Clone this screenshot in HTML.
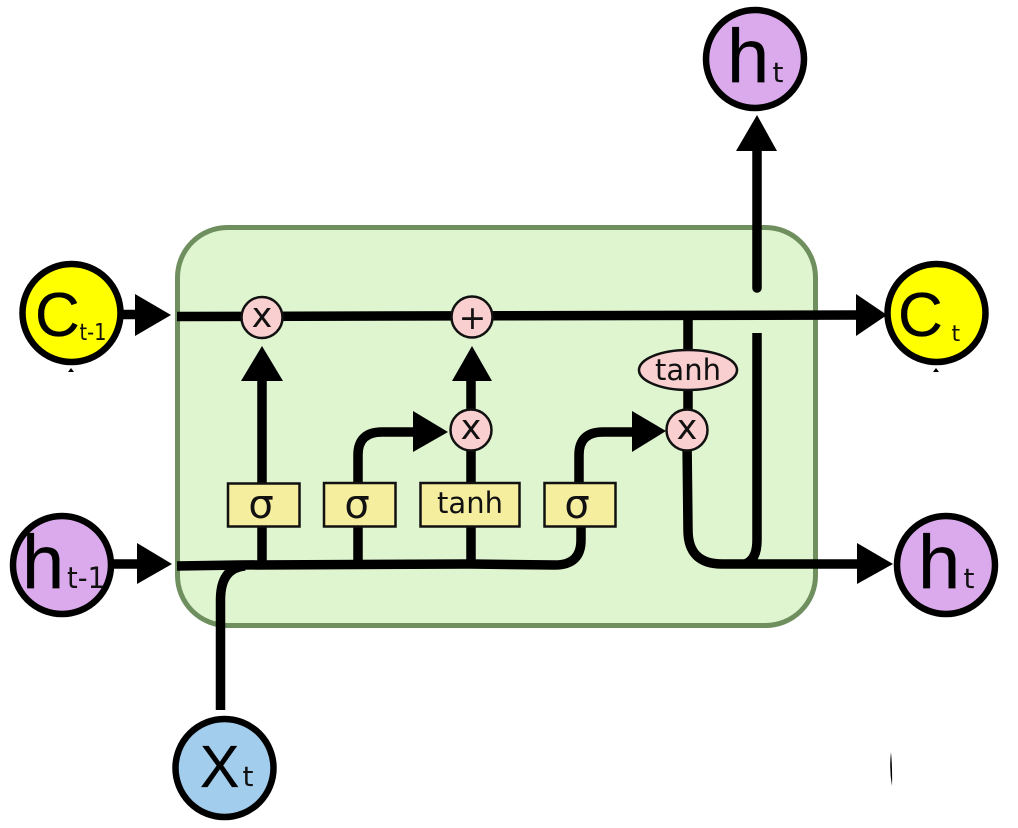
<!DOCTYPE html>
<html>
<head>
<meta charset="utf-8">
<style>
html,body{margin:0;padding:0;background:#fff;width:1018px;height:828px;overflow:hidden}
svg{display:block}
.big{font-family:"Liberation Sans",sans-serif;fill:#000;stroke:#000;stroke-width:.3}
.thin{font-family:"DejaVu Sans",sans-serif;fill:#111}
.dj{font-family:"DejaVu Sans",sans-serif;fill:#111;text-anchor:middle}
</style>
</head>
<body>
<svg width="1018" height="828" viewBox="0 0 1018 828" xmlns="http://www.w3.org/2000/svg">
<rect x="177.500" y="227.500" width="638" height="398" rx="50" ry="50" fill="#dff5d0" stroke="#6f8f5f" stroke-width="5"/>

<g fill="none" stroke="#000" stroke-width="9.500">
<path d="M177 316.500 L860 315"/>
<path d="M177 566 L240 565 L470 564 L555 565 Q581 565 581 540 L581 527"/>
<path d="M220.500 710 L220.500 600 Q220.500 568 245 566"/>
<path d="M262 381 V564"/>
<path d="M358 564 V527"/>
<path d="M358 483 V455 Q358 432 382 432 H420"/>
<path d="M471 381 V564"/>
<path d="M579 483 V455 Q579 432 603 432 H640"/>
<path d="M688 315 V410"/>
<path d="M687 440 L688 530 Q688 564 722 564 H865"/>
<path d="M757 333 V540 Q757 560 745 564"/>
<path d="M757 145 V288" stroke-linecap="round"/>
<path d="M120 314.500 H140"/>
<path d="M112 564 H142"/>
</g>

<g fill="#000">
<polygon points="135,294 171,315 135,336"/>
<polygon points="137,543 172,564 137,584"/>
<polygon points="856,294 887,315 856,336"/>
<polygon points="857,543 893,564 857,584"/>
<polygon points="241,381 262,346 283,381"/>
<polygon points="452,381 472,346 492,381"/>
<polygon points="413,411 448,432 413,452"/>
<polygon points="632,411 666,431 632,452"/>
<polygon points="736,151 757,115 777,151"/>
<polygon points="68,372 71,368 74,372"/>
<polygon points="933,372 936,368 939,372"/>
<path d="M891 752 Q889 769 892 786 Q892.500 769 891 752Z"/>
</g>

<g fill="#f5ee9f" stroke="#111" stroke-width="2.500">
<rect x="228" y="483.500" width="71.500" height="43"/>
<rect x="324" y="483" width="71.500" height="43.500"/>
<rect x="420.500" y="483" width="99" height="43.500"/>
<rect x="544.500" y="483" width="71" height="43.500"/>
</g>

<g fill="#f9cfcf" stroke="#111" stroke-width="2.500">
<circle cx="262" cy="317.500" r="20.500"/>
<circle cx="472" cy="317" r="20.500"/>
<circle cx="471" cy="430" r="20.500"/>
<circle cx="687" cy="430" r="20.500"/>
<ellipse cx="688" cy="370" rx="49" ry="20"/>
</g>

<g class="dj">
<text x="262" y="327" font-size="35">x</text>
<text x="472.500" y="329" font-size="33">+</text>
<text x="471" y="439" font-size="35">x</text>
<text x="687" y="439" font-size="35">x</text>
<text x="688" y="380" font-size="29">tanh</text>
<text x="261" y="518" font-size="40">σ</text>
<text x="357" y="518" font-size="40">σ</text>
<text x="470" y="513" font-size="29">tanh</text>
<text x="577" y="518" font-size="40">σ</text>
</g>

<g stroke="#000" stroke-width="6.500">
<circle cx="71.500" cy="313" r="49" fill="#ffff00"/>
<circle cx="936.500" cy="313" r="49" fill="#ffff00"/>
<circle cx="62" cy="565" r="49" fill="#dbaaec"/>
<circle cx="946" cy="565" r="49" fill="#dbaaec"/>
<circle cx="755" cy="59" r="49" fill="#dbaaec"/>
<circle cx="224.500" cy="768" r="49" fill="#a3cdec"/>
</g>

<g class="big">
<text x="35" y="336" font-size="62">C</text>
<text x="898" y="336" font-size="62">C</text>
<text x="22" y="588" font-size="76">h</text>
<text x="918" y="588" font-size="76">h</text>
<text x="727" y="82" font-size="76">h</text>
<text x="200" y="787" font-size="59">X</text>
</g>
<g class="thin">
<text x="79.500" y="340" font-size="23" textLength="27" lengthAdjust="spacingAndGlyphs">t-1</text>
<text x="67" y="588" font-size="29" textLength="38" lengthAdjust="spacingAndGlyphs">t-1</text>
<text x="951.500" y="341" font-size="22">t</text>
<text x="963.500" y="588" font-size="28">t</text>
<text x="772.500" y="82" font-size="28">t</text>
<text x="242.500" y="786" font-size="28">t</text>
</g>
</svg>
</body>
</html>
